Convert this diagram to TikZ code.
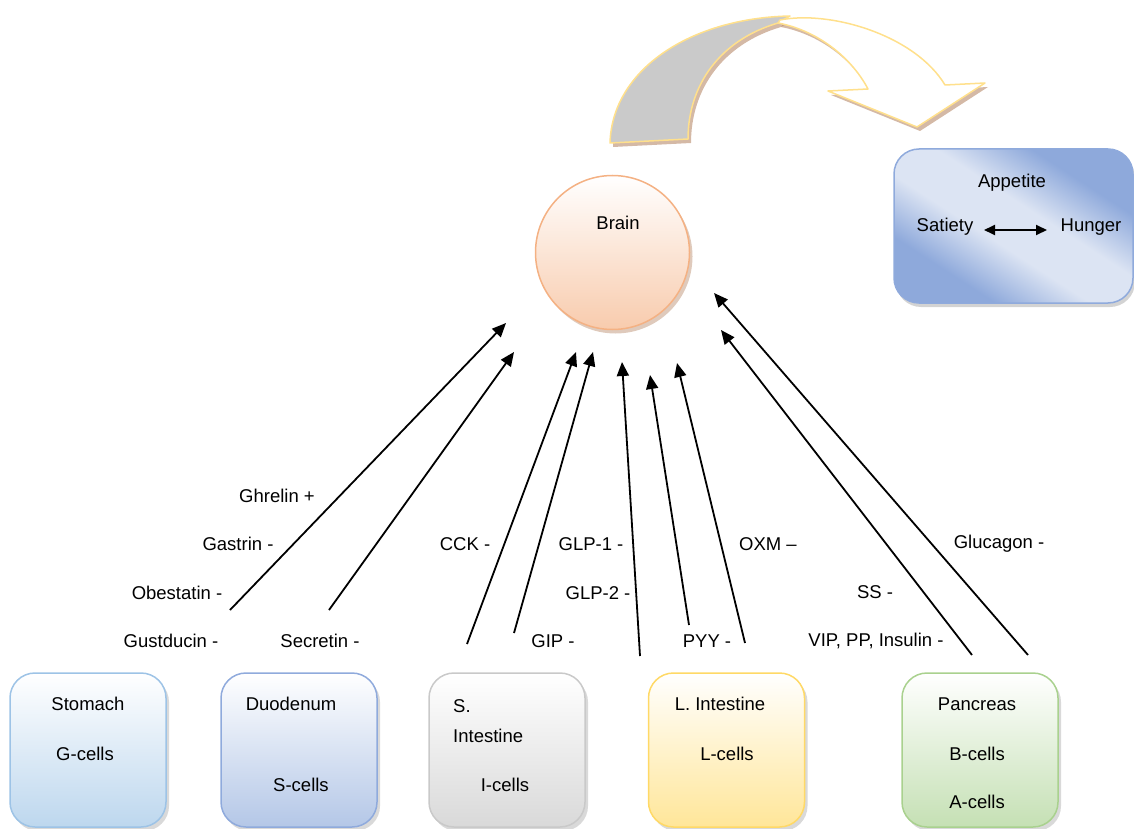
\documentclass[tikz,border=0pt]{standalone}
\usepackage{fontspec}
\setmainfont{Liberation Sans}
\usetikzlibrary{arrows.meta,shadows}
\definecolor{stomB}{HTML}{9DC3E6}
\definecolor{stomF}{HTML}{BDD7EE}
\definecolor{duoB}{HTML}{8FAADC}
\definecolor{duoF}{HTML}{B4C7E7}
\definecolor{siB}{HTML}{C9C9C9}
\definecolor{siF}{HTML}{D9D9D9}
\definecolor{liB}{HTML}{FFD966}
\definecolor{liF}{HTML}{FFE699}
\definecolor{paB}{HTML}{A9D18E}
\definecolor{paF}{HTML}{C5E0B4}
\definecolor{brB}{HTML}{F4B183}
\definecolor{brF}{HTML}{F8CBAD}
\definecolor{apDark}{HTML}{8EA9DB}
\definecolor{apLight}{HTML}{DCE4F3}
\definecolor{arrY}{HTML}{FFE08C}
\definecolor{arrG}{HTML}{CACACA}
\definecolor{shBrown}{HTML}{B88A6A}
\pgfdeclareverticalshading{apshade}{100bp}{color(0bp)=(apDark); color(30bp)=(apDark); color(44bp)=(apLight); color(56bp)=(apLight); color(70bp)=(apDark); color(100bp)=(apDark)}
\begin{document}
\begin{tikzpicture}[x=1pt,y=-1pt,
  every node/.style={font=\fontsize{18.5}{22}\selectfont, inner sep=0pt},
  organ/.style={draw, line width=1.5pt, rounded corners=25pt,
    minimum width=156pt, minimum height=154pt,
    drop shadow={shadow xshift=3pt,shadow yshift=-4pt,opacity=0.3}},
  hormone/.style={-{Triangle[length=14pt,width=12pt]}, line width=1.8pt},
  lbl/.style={anchor=center}]
\useasboundingbox (0,0) rectangle (1134,829);

% ---- curved arrow (top) ----
\begin{scope}[shift={(3,4)}]
  \fill[shBrown, opacity=0.6] (610,143) .. controls (612,70) and (690,18) .. (790,16)
     -- (778,23) .. controls (720,40) and (688,85) .. (688,139) -- cycle;
  \fill[shBrown, opacity=0.6] (780,20) .. controls (830,10) and (915,35) .. (945,85)
     -- (985,83) -- (917,127) -- (828,91) -- (868,89)
     .. controls (850,55) and (815,30) .. (778,23) -- cycle;
\end{scope}
\filldraw[fill=arrG, draw=arrY, line width=1.5pt, line join=round]
  (610,143) .. controls (612,70) and (690,18) .. (790,16)
  -- (778,23) .. controls (720,40) and (688,85) .. (688,139) -- cycle;
\filldraw[fill=white, draw=arrY, line width=1.5pt, line join=round]
  (780,20) .. controls (830,10) and (915,35) .. (945,85)
  -- (985,83) -- (917,127) -- (828,91) -- (868,89)
  .. controls (850,55) and (815,30) .. (778,23) -- cycle;

% ---- appetite box ----
\node[draw=duoB, line width=1.5pt, rounded corners=25pt,
  minimum width=239pt, minimum height=154pt,
  shading=apshade, shading angle=-33,
  drop shadow={shadow xshift=2pt,shadow yshift=-4pt,opacity=0.35}]
  (appetite) at (1013.5,226) {};
\node (apptxt) at (1012,183) {Appetite};
\node (satiety) at (945,227) {Satiety};
\node (hunger) at (1091,227) {Hunger};
\coordinate (satR) at (984,230);
\coordinate (hunL) at (1047,230);
\draw[{Triangle[length=11pt,width=10pt]}-{Triangle[length=11pt,width=10pt]}, line width=1.8pt] (satR) -- (hunL);

% ---- brain ----
\node[circle, draw=brB, line width=1.5pt, minimum size=154pt,
  top color=white, bottom color=brF,
  drop shadow={shadow xshift=3pt,shadow yshift=-4pt,opacity=0.45,fill=shBrown}]
  (brain) at (612.5,252.5) {};
\node (braintxt) at (618,223) {Brain};

% ---- organ boxes ----
\node[organ, draw=stomB, top color=white, bottom color=stomF] (stomach) at (88,750) {};
\node[organ, draw=duoB, top color=white, bottom color=duoF] (duodenum) at (299,750) {};
\node[organ, draw=siB, top color=white, bottom color=siF] (sint) at (507,750) {};
\node[organ, draw=liB, top color=white, bottom color=liF] (lint) at (726.5,750) {};
\node[organ, draw=paB, top color=white, bottom color=paF] (pancreas) at (980,750) {};

\node (t1) at (88,704) {Stomach};
\node (t2) at (85,754) {G-cells};
\node (t3) at (291,704) {Duodenum};
\node (t4) at (301,785) {S-cells};
\node[anchor=west] (t5) at (453,706) {S.};
\node[anchor=west] (t6) at (453,736) {Intestine};
\node (t7) at (505,785) {I-cells};
\node (t8) at (720,704) {L. Intestine};
\node (t9) at (727,754) {L-cells};
\node (t10) at (977,704) {Pancreas};
\node (t11) at (977,754) {B-cells};
\node (t12) at (977,802) {A-cells};

% ---- hormone arrows ----
\coordinate (a1s) at (230,610); \coordinate (a1e) at (506,323);
\coordinate (a2s) at (329,610); \coordinate (a2e) at (514,352);
\coordinate (a3s) at (467,644); \coordinate (a3e) at (576,352);
\coordinate (a4s) at (514,633); \coordinate (a4e) at (593,352);
\coordinate (a5s) at (640,656); \coordinate (a5e) at (622,362);
\coordinate (a6s) at (689,625); \coordinate (a6e) at (650,375);
\coordinate (a7s) at (745,643); \coordinate (a7e) at (677,363);
\coordinate (a8s) at (972,655); \coordinate (a8e) at (721,330);
\coordinate (a9s) at (1028,655); \coordinate (a9e) at (714,293);
\foreach \i in {1,...,9} { \draw[hormone] (a\i s) -- (a\i e); }

% ---- hormone labels ----
\node (h1) at (277,496) {Ghrelin +};
\node (h2) at (238,544) {Gastrin -};
\node (h3) at (177,593) {Obestatin -};
\node (h4) at (171,641) {Gustducin -};
\node (h5) at (320,641) {Secretin -};
\node (h6) at (465,544) {CCK -};
\node (h7) at (591,544) {GLP-1 -};
\node (h8) at (598,593) {GLP-2 -};
\node (h9) at (553,641) {GIP -};
\node (h10) at (707,641) {PYY -};
\node (h11) at (768,544) {OXM –};
\node (h12) at (999,544) {Glucagon -};
\node (h13) at (875,592) {SS -};
\node (h14) at (876,641) {VIP, PP, Insulin -};
\end{tikzpicture}
\end{document}
